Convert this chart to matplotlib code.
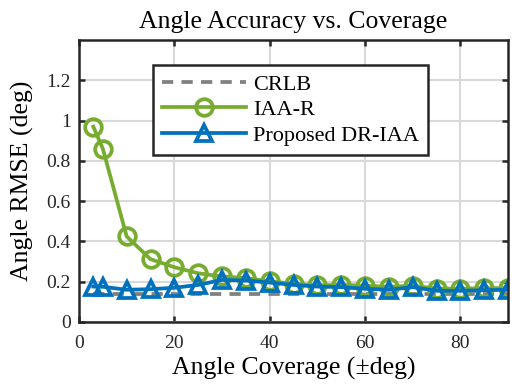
import numpy as np
import matplotlib
matplotlib.use('Agg')
import matplotlib.pyplot as plt

# angle coverage (+/- deg)
coverage = [3, 5, 10, 15, 20, 25, 30, 35, 40, 45, 50, 55, 60, 65, 70, 75, 80, 85, 90]

crlb = [0.14] * len(coverage)
iaa_r = [0.97, 0.86, 0.425, 0.312, 0.272, 0.242, 0.226, 0.218, 0.202, 0.19, 0.182,
         0.185, 0.18, 0.175, 0.18, 0.166, 0.165, 0.168, 0.168]
dr_iaa = [0.176, 0.175, 0.16, 0.163, 0.17, 0.184, 0.209, 0.206, 0.196, 0.184, 0.176,
          0.173, 0.165, 0.16, 0.173, 0.155, 0.155, 0.158, 0.16]

plt.rcParams['font.family'] = ['Liberation Serif', 'DejaVu Serif']

fig = plt.figure(figsize=(5.2, 3.88), dpi=100)
ax = fig.add_axes([79/520, 1 - 322/388, 429/520, 282/388])

ax.plot(coverage, crlb, '--', color=(0.5, 0.5, 0.5), lw=2.7, dashes=(3, 2.2), label='CRLB')
ax.plot(coverage, iaa_r, '-o', color='#77AC30', lw=2.7, ms=12, mfc='none', mew=2.7,
        label='IAA-R')
ax.plot(coverage, dr_iaa, '-^', color='#0072BD', lw=2.7, ms=12, mfc='none', mew=2.7,
        label='Proposed DR-IAA')

ax.set_xlim(0, 90)
ax.set_ylim(0, 1.4)
ax.set_xticks([0, 20, 40, 60, 80])
ax.set_yticks([0, 0.2, 0.4, 0.6, 0.8, 1, 1.2])
ax.set_yticklabels(['0', '0.2', '0.4', '0.6', '0.8', '1', '1.2'])
ax.grid(True, color='#d9d9d9', lw=1.5)
ax.set_axisbelow(True)
ax.tick_params(direction='in', top=True, right=True, labelsize=14, width=1.8,
               length=4, colors='#262626')
ax.tick_params(axis='x', pad=9)
ax.tick_params(axis='y', pad=6)
for s in ax.spines.values():
    s.set_linewidth(1.8)
    s.set_color('#262626')

ax.set_xlabel('Angle Coverage (\u00b1deg)', fontsize=18.5, labelpad=4)
ax.set_ylabel('Angle RMSE (deg)', fontsize=18.5, labelpad=9)
ax.set_title('Angle Accuracy vs. Coverage', fontsize=18.5, pad=9)

leg = ax.legend(loc='upper left', bbox_to_anchor=(0.172, 0.91), fontsize=16,
                fancybox=False, edgecolor='#262626', framealpha=1,
                handlelength=3.8, handletextpad=0.3, borderpad=0.4, labelspacing=0.22,
                borderaxespad=0)
leg.get_frame().set_linewidth(1.8)

fig.savefig('out.png', dpi=100)
